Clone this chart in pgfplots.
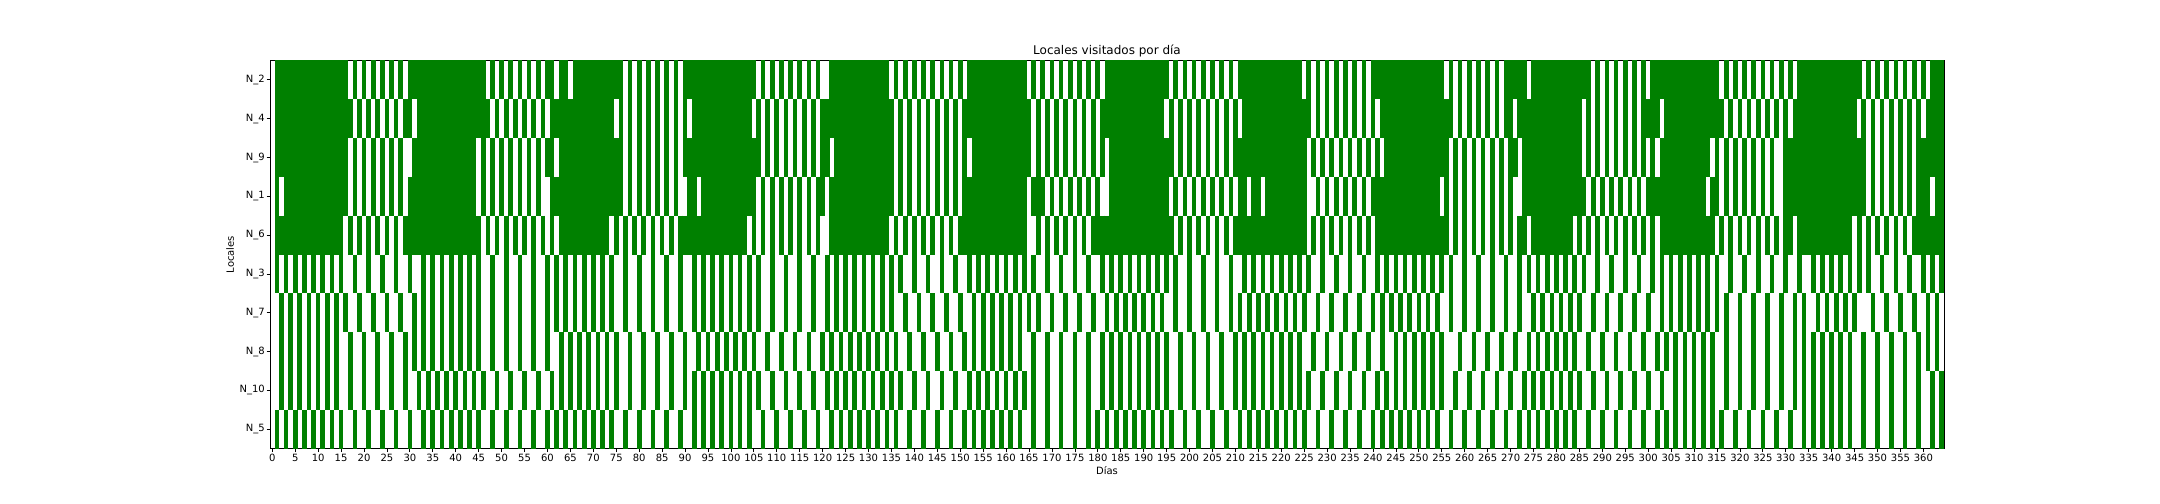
\documentclass[border=0pt]{standalone}
\usepackage{pgfplots}
\pgfplotsset{compat=1.18}
\usepackage{fontspec}
\setmainfont{DejaVu Sans}
\definecolor{mplgreen}{HTML}{008000}
\pgfplotsset{cell/.style={only marks, mark=|, color=mplgreen, mark size=14.02pt, mark options={draw=mplgreen, line width=3.38pt}}}
\begin{document}
\fontsize{7.23}{8.7}\selectfont
\begin{tikzpicture}
\path[use as bounding box] (-195.13pt,-40.07pt) rectangle (1365.90pt,324.17pt);
\begin{axis}[
  at={(0pt,0pt)}, anchor=south west,
  scale only axis, width=1209.80pt, height=280.47pt,
  xmin=-0.5, xmax=364.5, ymin=-0.5, ymax=9.5, y dir=reverse,
  axis on top,
  xtick={0,5,...,360},
  ytick={0,1,2,3,4,5,6,7,8,9},
  yticklabels={N\_2,N\_4,N\_9,N\_1,N\_6,N\_3,N\_7,N\_8,N\_10,N\_5},
  tick pos=left, tick align=outside,
  major tick length=2.53pt,
  major tick style={black, line width=0.58pt},
  axis line style={line width=0.58pt},
  /pgf/number format/assume math mode=true,
  tick label style={font=\fontsize{7.23}{8.7}\selectfont, inner sep=1pt},
  title={Locales visitados por día},
  title style={font=\fontsize{8.67}{10.4}\selectfont, at={(0.5,1)}, anchor=base, yshift=-1.66pt, inner sep=0pt},
  xlabel={Días}, ylabel={Locales},
  label style={font=\fontsize{7.23}{8.7}\selectfont, inner sep=2.89pt},
]
% N_2
\addplot[cell] coordinates {(1,0)(2,0)(3,0)(4,0)(5,0)(6,0)(7,0)(8,0)(9,0)(10,0)(11,0)(12,0)(13,0)(14,0)(15,0)(16,0)
(18,0)(20,0)(22,0)(24,0)(26,0)(28,0)
(30,0)(31,0)(32,0)(33,0)(34,0)(35,0)(36,0)(37,0)(38,0)(39,0)(40,0)(41,0)(42,0)(43,0)(44,0)(45,0)(46,0)
(48,0)(50,0)(52,0)(54,0)(56,0)(58,0)(60,0)(61,0)(63,0)(64,0)
(66,0)(67,0)(68,0)(69,0)(70,0)(71,0)(72,0)(73,0)(74,0)(75,0)(76,0)
(78,0)(80,0)(82,0)(84,0)(86,0)(88,0)
(90,0)(91,0)(92,0)(93,0)(94,0)(95,0)(96,0)(97,0)(98,0)(99,0)(100,0)(101,0)(102,0)(103,0)(104,0)(105,0)
(107,0)(109,0)(111,0)(113,0)(115,0)(117,0)(119,0)
(122,0)(123,0)(124,0)(125,0)(126,0)(127,0)(128,0)(129,0)(130,0)(131,0)(132,0)(133,0)(134,0)
(136,0)(138,0)(140,0)(142,0)(144,0)(146,0)(148,0)(150,0)
(152,0)(153,0)(154,0)(155,0)(156,0)(157,0)(158,0)(159,0)(160,0)(161,0)(162,0)(163,0)(164,0)
(166,0)(168,0)(170,0)(172,0)(174,0)(176,0)(178,0)(180,0)
(182,0)(183,0)(184,0)(185,0)(186,0)(187,0)(188,0)(189,0)(190,0)(191,0)(192,0)(193,0)(194,0)(195,0)
(197,0)(199,0)(201,0)(203,0)(205,0)(207,0)(209,0)
(211,0)(212,0)(213,0)(214,0)(215,0)(216,0)(217,0)(218,0)(219,0)(220,0)(221,0)(222,0)(223,0)(224,0)
(226,0)(228,0)(230,0)(232,0)(234,0)(236,0)(238,0)
(240,0)(241,0)(242,0)(243,0)(244,0)(245,0)(246,0)(247,0)(248,0)(249,0)(250,0)(251,0)(252,0)(253,0)(254,0)(255,0)
(257,0)(259,0)(261,0)(263,0)(265,0)(267,0)
(269,0)(270,0)(271,0)(272,0)(273,0)
(275,0)(276,0)(277,0)(278,0)(279,0)(280,0)(281,0)(282,0)(283,0)(284,0)(285,0)(286,0)(287,0)
(289,0)(291,0)(293,0)(295,0)(297,0)(299,0)
(301,0)(302,0)(303,0)(304,0)(305,0)(306,0)(307,0)(308,0)(309,0)(310,0)(311,0)(312,0)(313,0)(314,0)(315,0)
(317,0)(319,0)(321,0)(323,0)(325,0)(327,0)(329,0)(331,0)
(333,0)(334,0)(335,0)(336,0)(337,0)(338,0)(339,0)(340,0)(341,0)(342,0)(343,0)(344,0)(345,0)(346,0)
(348,0)(350,0)(352,0)(354,0)(356,0)(358,0)(360,0)
(362,0)(363,0)(364,0)};
% N_4
\addplot[cell] coordinates {(1,1)(2,1)(3,1)(4,1)(5,1)(6,1)(7,1)(8,1)(9,1)(10,1)(11,1)(12,1)(13,1)(14,1)(15,1)(16,1)(17,1)
(19,1)(21,1)(23,1)(25,1)(27,1)(29,1)(30,1)
(32,1)(33,1)(34,1)(35,1)(36,1)(37,1)(38,1)(39,1)(40,1)(41,1)(42,1)(43,1)(44,1)(45,1)(46,1)(47,1)
(49,1)(51,1)(53,1)(55,1)(57,1)(59,1)
(61,1)(62,1)(63,1)(64,1)(65,1)(66,1)(67,1)(68,1)(69,1)(70,1)(71,1)(72,1)(73,1)(74,1)
(76,1)(78,1)(80,1)(82,1)(84,1)(86,1)(88,1)(90,1)
(92,1)(93,1)(94,1)(95,1)(96,1)(97,1)(98,1)(99,1)(100,1)(101,1)(102,1)(103,1)(104,1)
(106,1)(108,1)(110,1)(112,1)(114,1)(116,1)(118,1)(120,1)
(121,1)(122,1)(123,1)(124,1)(125,1)(126,1)(127,1)(128,1)(129,1)(130,1)(131,1)(132,1)(133,1)(134,1)(135,1)
(137,1)(139,1)(141,1)(143,1)(145,1)(147,1)(149,1)
(151,1)(152,1)(153,1)(154,1)(155,1)(156,1)(157,1)(158,1)(159,1)(160,1)(161,1)(162,1)(163,1)(164,1)(165,1)
(167,1)(169,1)(171,1)(173,1)(175,1)(177,1)(179,1)(181,1)
(182,1)(183,1)(184,1)(185,1)(186,1)(187,1)(188,1)(189,1)(190,1)(191,1)(192,1)(193,1)(194,1)
(196,1)(198,1)(200,1)(202,1)(204,1)(206,1)(208,1)(210,1)
(212,1)(213,1)(214,1)(215,1)(216,1)(217,1)(218,1)(219,1)(220,1)(221,1)(222,1)(223,1)(224,1)(225,1)(226,1)
(228,1)(230,1)(232,1)(234,1)(236,1)(238,1)(240,1)
(242,1)(243,1)(244,1)(245,1)(246,1)(247,1)(248,1)(249,1)(250,1)(251,1)(252,1)(253,1)(254,1)(255,1)(256,1)(257,1)
(259,1)(261,1)(263,1)(265,1)(267,1)(269,1)(270,1)
(272,1)(273,1)(274,1)(275,1)(276,1)(277,1)(278,1)(279,1)(280,1)(281,1)(282,1)(283,1)(284,1)(285,1)
(287,1)(289,1)(291,1)(293,1)(295,1)(297,1)(299,1)(300,1)(301,1)(302,1)
(304,1)(305,1)(306,1)(307,1)(308,1)(309,1)(310,1)(311,1)(312,1)(313,1)(314,1)(315,1)(316,1)
(318,1)(320,1)(322,1)(324,1)(326,1)(328,1)(330,1)
(332,1)(333,1)(334,1)(335,1)(336,1)(337,1)(338,1)(339,1)(340,1)(341,1)(342,1)(343,1)(344,1)(345,1)
(347,1)(349,1)(351,1)(353,1)(355,1)(357,1)(359,1)
(361,1)(362,1)(363,1)(364,1)};
% N_9
\addplot[cell] coordinates {(1,2)(2,2)(3,2)(4,2)(5,2)(6,2)(7,2)(8,2)(9,2)(10,2)(11,2)(12,2)(13,2)(14,2)(15,2)(16,2)
(18,2)(20,2)(22,2)(24,2)(26,2)(28,2)
(31,2)(32,2)(33,2)(34,2)(35,2)(36,2)(37,2)(38,2)(39,2)(40,2)(41,2)(42,2)(43,2)(44,2)
(46,2)(48,2)(50,2)(52,2)(54,2)(56,2)(58,2)(60,2)(61,2)
(63,2)(64,2)(65,2)(66,2)(67,2)(68,2)(69,2)(70,2)(71,2)(72,2)(73,2)(74,2)(75,2)(76,2)
(78,2)(80,2)(82,2)(84,2)(86,2)(88,2)
(90,2)(91,2)(92,2)(93,2)(94,2)(95,2)(96,2)(97,2)(98,2)(99,2)(100,2)(101,2)(102,2)(103,2)(104,2)(105,2)(106,2)
(108,2)(110,2)(112,2)(114,2)(116,2)(118,2)(120,2)(121,2)
(123,2)(124,2)(125,2)(126,2)(127,2)(128,2)(129,2)(130,2)(131,2)(132,2)(133,2)(134,2)(135,2)
(137,2)(139,2)(141,2)(143,2)(145,2)(147,2)(149,2)(151,2)
(153,2)(154,2)(155,2)(156,2)(157,2)(158,2)(159,2)(160,2)(161,2)(162,2)(163,2)(164,2)(165,2)
(167,2)(169,2)(171,2)(173,2)(175,2)(177,2)(179,2)(181,2)
(183,2)(184,2)(185,2)(186,2)(187,2)(188,2)(189,2)(190,2)(191,2)(192,2)(193,2)(194,2)(195,2)(196,2)
(198,2)(200,2)(202,2)(204,2)(206,2)(208,2)
(210,2)(211,2)(212,2)(213,2)(214,2)(215,2)(216,2)(217,2)(218,2)(219,2)(220,2)(221,2)(222,2)(223,2)(224,2)(225,2)
(227,2)(229,2)(231,2)(233,2)(235,2)(237,2)(239,2)(241,2)
(243,2)(244,2)(245,2)(246,2)(247,2)(248,2)(249,2)(250,2)(251,2)(252,2)(253,2)(254,2)(255,2)(256,2)
(258,2)(260,2)(262,2)(264,2)(266,2)(268,2)(270,2)(271,2)
(273,2)(274,2)(275,2)(276,2)(277,2)(278,2)(279,2)(280,2)(281,2)(282,2)(283,2)(284,2)(285,2)
(287,2)(289,2)(291,2)(293,2)(295,2)(297,2)(299,2)(301,2)
(303,2)(304,2)(305,2)(306,2)(307,2)(308,2)(309,2)(310,2)(311,2)(312,2)(313,2)
(315,2)(317,2)(319,2)(321,2)(323,2)(325,2)(327,2)
(330,2)(331,2)(332,2)(333,2)(334,2)(335,2)(336,2)(337,2)(338,2)(339,2)(340,2)(341,2)(342,2)(343,2)(344,2)(345,2)(346,2)(347,2)
(349,2)(351,2)(353,2)(355,2)(357,2)
(359,2)(360,2)(361,2)(362,2)(363,2)(364,2)};
% N_1
\addplot[cell] coordinates {(1,3)(3,3)(4,3)(5,3)(6,3)(7,3)(8,3)(9,3)(10,3)(11,3)(12,3)(13,3)(14,3)(15,3)(16,3)
(18,3)(20,3)(22,3)(24,3)(26,3)(28,3)
(30,3)(31,3)(32,3)(33,3)(34,3)(35,3)(36,3)(37,3)(38,3)(39,3)(40,3)(41,3)(42,3)(43,3)(44,3)
(46,3)(48,3)(50,3)(52,3)(54,3)(56,3)(58,3)
(61,3)(62,3)(63,3)(64,3)(65,3)(66,3)(67,3)(68,3)(69,3)(70,3)(71,3)(72,3)(73,3)(74,3)(75,3)(76,3)
(78,3)(80,3)(82,3)(84,3)(86,3)(88,3)
(91,3)(92,3)
(94,3)(95,3)(96,3)(97,3)(98,3)(99,3)(100,3)(101,3)(102,3)(103,3)(104,3)(105,3)
(107,3)(109,3)(111,3)(113,3)(115,3)(117,3)(119,3)(120,3)
(122,3)(123,3)(124,3)(125,3)(126,3)(127,3)(128,3)(129,3)(130,3)(131,3)(132,3)(133,3)(134,3)(135,3)
(137,3)(139,3)(141,3)(143,3)(145,3)(147,3)(149,3)
(151,3)(152,3)(153,3)(154,3)(155,3)(156,3)(157,3)(158,3)(159,3)(160,3)(161,3)(162,3)(163,3)(164,3)
(166,3)(167,3)(168,3)(170,3)(172,3)(174,3)(176,3)(178,3)(180,3)
(183,3)(184,3)(185,3)(186,3)(187,3)(188,3)(189,3)(190,3)(191,3)(192,3)(193,3)(194,3)(195,3)
(197,3)(199,3)(201,3)(203,3)(205,3)(207,3)(209,3)(211,3)(212,3)
(214,3)(215,3)
(217,3)(218,3)(219,3)(220,3)(221,3)(222,3)(223,3)(224,3)(225,3)
(228,3)(230,3)(232,3)(234,3)(236,3)(238,3)
(240,3)(241,3)(242,3)(243,3)(244,3)(245,3)(246,3)(247,3)(248,3)(249,3)(250,3)(251,3)(252,3)(253,3)(254,3)
(256,3)(258,3)(260,3)(262,3)(264,3)(266,3)(268,3)(270,3)
(273,3)(274,3)(275,3)(276,3)(277,3)(278,3)(279,3)(280,3)(281,3)(282,3)(283,3)(284,3)(285,3)(286,3)
(288,3)(290,3)(292,3)(294,3)(296,3)(298,3)
(300,3)(301,3)(302,3)(303,3)(304,3)(305,3)(306,3)(307,3)(308,3)(309,3)(310,3)(311,3)(312,3)
(314,3)(315,3)
(317,3)(319,3)(321,3)(323,3)(325,3)(327,3)
(330,3)(331,3)(332,3)(333,3)(334,3)(335,3)(336,3)(337,3)(338,3)(339,3)(340,3)(341,3)(342,3)(343,3)(344,3)(345,3)(346,3)(347,3)
(349,3)(351,3)(353,3)(355,3)(357,3)
(359,3)(360,3)(361,3)(363,3)(364,3)};
% N_6
\addplot[cell] coordinates {(1,4)(2,4)(3,4)(4,4)(5,4)(6,4)(7,4)(8,4)(9,4)(10,4)(11,4)(12,4)(13,4)(14,4)(15,4)
(17,4)(19,4)(21,4)(23,4)(25,4)(27,4)(29,4)
(30,4)(31,4)(32,4)(33,4)(34,4)(35,4)(36,4)(37,4)(38,4)(39,4)(40,4)(41,4)(42,4)(43,4)(44,4)(45,4)
(47,4)(49,4)(51,4)(53,4)(55,4)(57,4)(59,4)(61,4)
(63,4)(64,4)(65,4)(66,4)(67,4)(68,4)(69,4)(70,4)(71,4)(72,4)(73,4)
(75,4)(77,4)(79,4)(81,4)(83,4)(85,4)(87,4)(89,4)
(90,4)(91,4)(92,4)(93,4)(94,4)(95,4)(96,4)(97,4)(98,4)(99,4)(100,4)(101,4)(102,4)(103,4)
(105,4)(107,4)(109,4)(111,4)(113,4)(115,4)(117,4)(119,4)
(122,4)(123,4)(124,4)(125,4)(126,4)(127,4)(128,4)(129,4)(130,4)(131,4)(132,4)(133,4)(134,4)
(136,4)(138,4)(140,4)(142,4)(144,4)(146,4)(148,4)(150,4)
(151,4)(152,4)(153,4)(154,4)(155,4)(156,4)(157,4)(158,4)(159,4)(160,4)(161,4)(162,4)(163,4)(164,4)
(167,4)(169,4)(171,4)(173,4)(175,4)(177,4)(179,4)
(180,4)(181,4)(182,4)(183,4)(184,4)(185,4)(186,4)(187,4)(188,4)(189,4)(190,4)(191,4)(192,4)(193,4)(194,4)(195,4)(196,4)
(198,4)(200,4)(202,4)(204,4)(206,4)(208,4)
(210,4)(211,4)(212,4)(213,4)(214,4)(215,4)(216,4)(217,4)(218,4)(219,4)(220,4)(221,4)(222,4)(223,4)(224,4)(225,4)
(227,4)(229,4)(231,4)(233,4)(235,4)(237,4)(239,4)
(241,4)(242,4)(243,4)(244,4)(245,4)(246,4)(247,4)(248,4)(249,4)(250,4)(251,4)(252,4)(253,4)(254,4)(255,4)(256,4)
(258,4)(260,4)(262,4)(264,4)(266,4)(268,4)(270,4)
(272,4)(273,4)
(275,4)(276,4)(277,4)(278,4)(279,4)(280,4)(281,4)(282,4)(283,4)
(285,4)(287,4)(289,4)(291,4)(293,4)(295,4)(297,4)(299,4)(301,4)(303,4)
(304,4)(305,4)(306,4)(307,4)(308,4)(309,4)(310,4)(311,4)(312,4)(313,4)(314,4)
(316,4)(318,4)(320,4)(322,4)(324,4)(326,4)(328,4)(330,4)(331,4)
(333,4)(334,4)(335,4)(336,4)(337,4)(338,4)(339,4)(340,4)(341,4)(342,4)(343,4)(344,4)
(346,4)(348,4)(350,4)(352,4)(354,4)(356,4)
(358,4)(359,4)(360,4)(361,4)(362,4)(363,4)(364,4)};
% N_3
\addplot[cell] coordinates {(1,5)(3,5)(5,5)(7,5)(9,5)(11,5)(13,5)(15,5)
(18,5)(21,5)(24,5)(27,5)(30,5)
(33,5)(35,5)(37,5)(39,5)(41,5)(43,5)(45,5)
(48,5)(51,5)(54,5)(57,5)(60,5)
(62,5)(64,5)(66,5)(68,5)(70,5)(72,5)(74,5)
(77,5)(80,5)(83,5)(86,5)(89,5)
(92,5)(94,5)(96,5)(98,5)(100,5)(102,5)(104,5)(106,5)
(109,5)(112,5)(115,5)(118,5)
(121,5)(123,5)(125,5)(127,5)(129,5)(131,5)(133,5)(135,5)
(137,5)(140,5)(143,5)(146,5)(149,5)
(152,5)(154,5)(156,5)(158,5)(160,5)(162,5)(164,5)(166,5)
(169,5)(172,5)(175,5)(178,5)(181,5)
(183,5)(185,5)(187,5)(189,5)(191,5)(193,5)(195,5)
(197,5)(200,5)(203,5)(206,5)(209,5)(212,5)
(214,5)(216,5)(218,5)(220,5)(222,5)(224,5)(226,5)
(229,5)(232,5)(235,5)(238,5)(241,5)
(243,5)(245,5)(247,5)(249,5)(251,5)(253,5)(255,5)
(257,5)(260,5)(263,5)(266,5)(269,5)(272,5)
(274,5)(276,5)(278,5)(280,5)(282,5)(284,5)(286,5)
(289,5)(292,5)(295,5)(298,5)(301,5)(303,5)
(305,5)(307,5)(309,5)(311,5)(313,5)(315,5)
(318,5)(321,5)(324,5)(327,5)(330,5)(333,5)
(336,5)(338,5)(340,5)(342,5)(344,5)(346,5)
(348,5)(351,5)(354,5)(357,5)(360,5)(362,5)(364,5)};
% N_7
\addplot[cell] coordinates {(2,6)(4,6)(6,6)(8,6)(10,6)(12,6)(14,6)(16,6)
(19,6)(22,6)(25,6)(28,6)
(31,6)(33,6)(35,6)(37,6)(39,6)(41,6)(43,6)(45,6)
(48,6)(51,6)(54,6)(57,6)(60,6)
(62,6)(64,6)(66,6)(68,6)(70,6)(72,6)(74,6)
(77,6)(80,6)(83,6)(86,6)(89,6)
(92,6)(94,6)(96,6)(98,6)(100,6)(102,6)(104,6)(106,6)
(109,6)(112,6)(115,6)(118,6)(121,6)
(123,6)(125,6)(127,6)(129,6)(131,6)(133,6)(135,6)
(138,6)(141,6)(144,6)(147,6)(150,6)
(153,6)(155,6)(157,6)(159,6)(161,6)(163,6)(165,6)(167,6)
(170,6)(173,6)(176,6)(179,6)(182,6)
(184,6)(186,6)(188,6)(190,6)(192,6)(194,6)
(197,6)(200,6)(203,6)(206,6)(209,6)(211,6)
(213,6)(215,6)(217,6)(219,6)(221,6)(223,6)(225,6)
(228,6)(231,6)(234,6)(237,6)(240,6)(242,6)
(244,6)(246,6)(248,6)(250,6)(252,6)(254,6)
(257,6)(260,6)(263,6)(266,6)(269,6)(272,6)
(275,6)(277,6)(279,6)(281,6)(283,6)(285,6)
(288,6)(291,6)(294,6)(297,6)(300,6)(303,6)
(305,6)(307,6)(309,6)(311,6)(313,6)(315,6)
(317,6)(320,6)(323,6)(326,6)(329,6)(332,6)(334,6)
(337,6)(339,6)(341,6)(343,6)(345,6)
(349,6)(352,6)(355,6)(358,6)(361,6)(363,6)};
% N_8
\addplot[cell] coordinates {(2,7)(4,7)(6,7)(8,7)(10,7)(12,7)(14,7)
(17,7)(20,7)(23,7)(26,7)(29,7)
(31,7)(33,7)(35,7)(37,7)(39,7)(41,7)(43,7)(45,7)
(48,7)(51,7)(54,7)(57,7)(60,7)
(63,7)(65,7)(67,7)(69,7)(71,7)(73,7)(75,7)
(78,7)(81,7)(84,7)(87,7)(90,7)
(93,7)(95,7)(97,7)(99,7)(101,7)(103,7)(105,7)
(108,7)(111,7)(114,7)(117,7)(120,7)
(122,7)(124,7)(126,7)(128,7)(130,7)(132,7)(134,7)
(136,7)(139,7)(142,7)(145,7)(148,7)(151,7)
(153,7)(155,7)(157,7)(159,7)(161,7)(163,7)
(166,7)(169,7)(172,7)(175,7)(178,7)(181,7)
(183,7)(185,7)(187,7)(189,7)(191,7)(193,7)(195,7)
(198,7)(201,7)(204,7)(207,7)(210,7)
(212,7)(214,7)(216,7)(218,7)(220,7)(222,7)(224,7)
(227,7)(230,7)(233,7)(236,7)(239,7)(242,7)
(245,7)(247,7)(249,7)(251,7)(253,7)(255,7)
(259,7)(262,7)(265,7)(268,7)(271,7)(274,7)
(276,7)(278,7)(280,7)(282,7)(284,7)
(287,7)(290,7)(293,7)(296,7)(299,7)(302,7)(304,7)
(306,7)(308,7)(310,7)(312,7)(314,7)
(317,7)(320,7)(323,7)(326,7)(329,7)(332,7)(334,7)
(336,7)(338,7)(340,7)(342,7)(344,7)
(347,7)(350,7)(353,7)(356,7)(359,7)(361,7)(363,7)};
% N_10
\addplot[cell] coordinates {(2,8)(4,8)(6,8)(8,8)(10,8)(12,8)(14,8)
(17,8)(20,8)(23,8)(26,8)(29,8)
(32,8)(34,8)(36,8)(38,8)(40,8)(42,8)(44,8)(46,8)
(49,8)(52,8)(55,8)(58,8)
(61,8)(63,8)(65,8)(67,8)(69,8)(71,8)(73,8)(75,8)
(78,8)(81,8)(84,8)(87,8)(90,8)
(92,8)(94,8)(96,8)(98,8)(100,8)(102,8)(104,8)(106,8)
(109,8)(112,8)(115,8)(118,8)
(121,8)(123,8)(125,8)(127,8)(129,8)(131,8)(133,8)(135,8)
(137,8)(140,8)(143,8)(146,8)(149,8)(152,8)
(154,8)(156,8)(158,8)(160,8)(162,8)(164,8)
(166,8)(169,8)(172,8)(175,8)(178,8)(181,8)
(183,8)(185,8)(187,8)(189,8)(191,8)(193,8)(195,8)
(198,8)(201,8)(204,8)(207,8)(210,8)(212,8)
(214,8)(216,8)(218,8)(220,8)(222,8)(224,8)(226,8)
(229,8)(232,8)(235,8)(238,8)(241,8)(243,8)
(245,8)(247,8)(249,8)(251,8)(253,8)(255,8)
(258,8)(261,8)(264,8)(267,8)(270,8)(273,8)
(275,8)(277,8)(279,8)(281,8)(283,8)(285,8)
(288,8)(291,8)(294,8)(297,8)(300,8)(303,8)
(306,8)(308,8)(310,8)(312,8)(314,8)
(317,8)(320,8)(323,8)(326,8)(329,8)(332,8)(334,8)
(336,8)(338,8)(340,8)(342,8)(344,8)
(347,8)(350,8)(353,8)(356,8)(359,8)(362,8)(364,8)};
% N_5
\addplot[cell] coordinates {(1,9)(3,9)(5,9)(7,9)(9,9)(11,9)(13,9)(15,9)
(18,9)(21,9)(24,9)(27,9)(30,9)
(33,9)(35,9)(37,9)(39,9)(41,9)(43,9)(45,9)
(48,9)(51,9)(54,9)(57,9)(60,9)
(62,9)(64,9)(66,9)(68,9)(70,9)(72,9)(74,9)
(77,9)(80,9)(83,9)(86,9)(89,9)
(92,9)(94,9)(96,9)(98,9)(100,9)(102,9)(104,9)
(107,9)(110,9)(113,9)(116,9)(119,9)
(122,9)(124,9)(126,9)(128,9)(130,9)(132,9)(134,9)
(136,9)(139,9)(142,9)(145,9)(148,9)(151,9)
(153,9)(155,9)(157,9)(159,9)(161,9)(163,9)
(166,9)(169,9)(172,9)(175,9)(178,9)(180,9)(182,9)
(184,9)(186,9)(188,9)(190,9)(192,9)(194,9)(196,9)
(199,9)(202,9)(205,9)(208,9)(211,9)
(213,9)(215,9)(217,9)(219,9)(221,9)(223,9)(225,9)
(228,9)(231,9)(234,9)(237,9)(240,9)(242,9)
(244,9)(246,9)(248,9)(250,9)(252,9)(254,9)
(257,9)(260,9)(263,9)(266,9)(269,9)(272,9)
(274,9)(276,9)(278,9)(280,9)(282,9)(284,9)
(287,9)(290,9)(293,9)(296,9)(299,9)(302,9)(304,9)
(306,9)(308,9)(310,9)(312,9)(314,9)
(316,9)(319,9)(322,9)(325,9)(328,9)(331,9)(334,9)
(336,9)(338,9)(340,9)(342,9)(344,9)
(347,9)(350,9)(353,9)(356,9)(359,9)(362,9)(364,9)};
\end{axis}
\end{tikzpicture}
\end{document}
